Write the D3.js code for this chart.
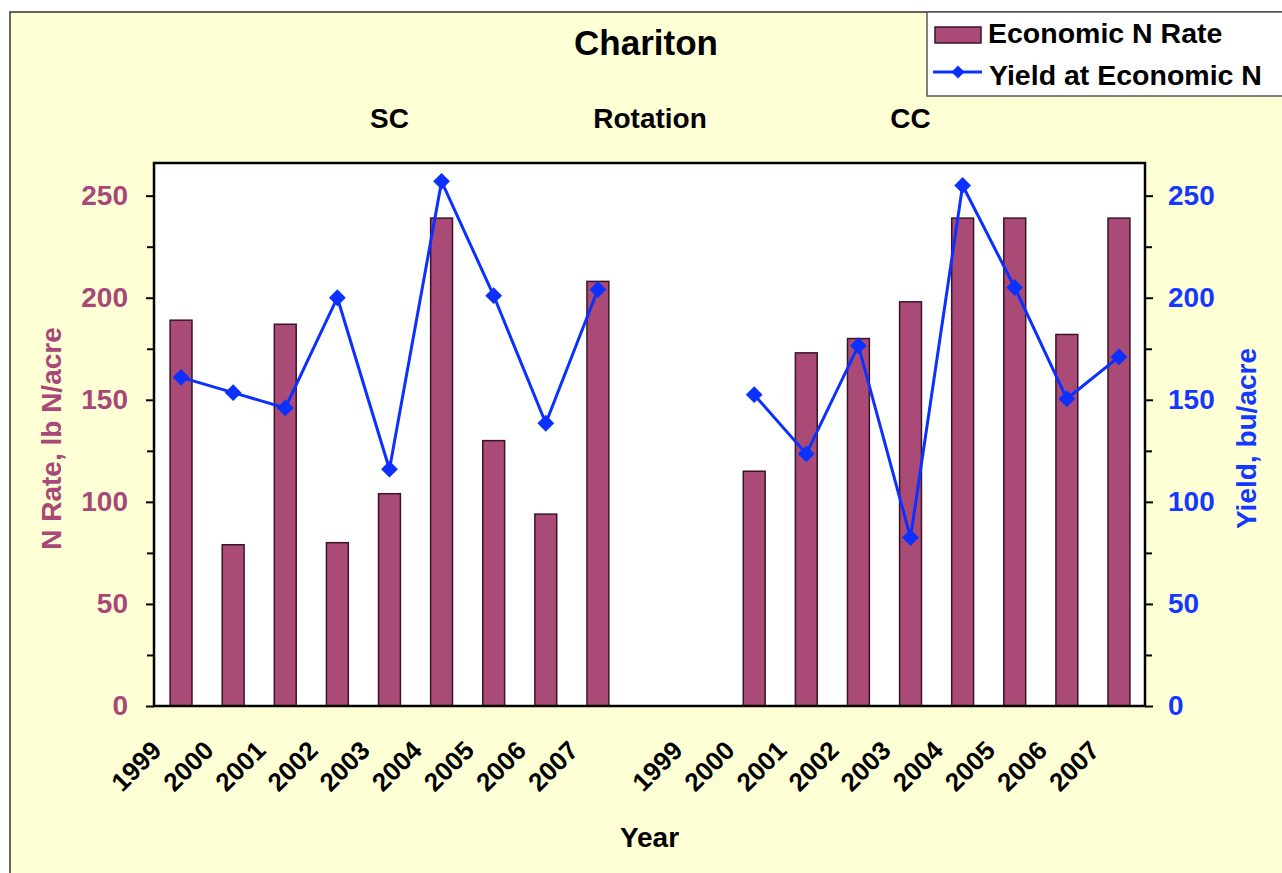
<!DOCTYPE html>
<html>
<head>
<meta charset="utf-8">
<script src="https://cdn.jsdelivr.net/npm/d3@7"></script>
<style>
  body { margin: 0; background: #ffffff; }
  svg text { font-family: "Liberation Sans", Arial, sans-serif; font-weight: bold; }
</style>
</head>
<body>
<div id="okvir"></div>
<script>
// godine (kategorije) - prazno mjesto izmedju SC i CC
const godine = ["1999","2000","2001","2002","2003","2004","2005","2006","2007",
  "","1999","2000","2001","2002","2003","2004","2005","2006","2007"]
// Economic N Rate, lb N/acre
const nRate = [189, 79, 187, 80, 104, 239, 130, 94, 208,
  null, null, 115, 173, 180, 198, 239, 239, 182, 239]
// Yield at Economic N, bu/acre
const prinos = [161, 153.5, 146, 200, 116, 257, 201, 138.5, 204,
  null, null, 152.5, 123.5, 176.5, 82.5, 255, 205, 150.5, 171]
// oznake grupa iznad grafa (indeks kategorije)
const grupe = [{ tekst: "SC", i: 4 }, { tekst: "Rotation", i: 9 }, { tekst: "CC", i: 14 }]
const glavniTicks = [0, 50, 100, 150, 200, 250]
const sporedniTicks = [25, 75, 125, 175, 225]

function crtaj() {
  const dimenzije = {
    sirina: 1282,
    visina: 873,
    granice: { left: 154, right: 1145, top: 163, bottom: 706 },
  }
  const boja = {
    pozadina: "#ffffd6",
    stupac: "#aa4a76",
    ljubicasta: "#a84878",
    plava: "#0b30ff",
  }
  const g = dimenzije.granice

  const okvir = d3.select("#okvir")
    .append("svg")
    .attr("width", dimenzije.sirina)
    .attr("height", dimenzije.visina)

  // pozadina grafikona
  okvir.append("rect")
    .attr("x", 10).attr("y", 12)
    .attr("width", 1290).attr("height", 880)
    .attr("fill", boja.pozadina)
    .attr("stroke", "#333").attr("stroke-width", 1.5)

  okvir.append("rect")
    .attr("x", g.left).attr("y", g.top)
    .attr("width", g.right - g.left).attr("height", g.bottom - g.top)
    .attr("fill", "#ffffff")

  const xSkala = d3.scaleBand()
    .domain(d3.range(godine.length))
    .range([g.left + 1, g.right])
    .paddingInner(0.58)
    .paddingOuter(0.29)
  const sredina = i => xSkala(i) + xSkala.bandwidth() / 2

  const yLijevo = d3.scaleLinear().domain([0, 266]).range([g.bottom, g.top])
  const yDesno = d3.scaleLinear().domain([0, 266]).range([g.bottom, g.top])

  // stupci
  okvir.append("g").selectAll("rect")
    .data(nRate.map((v, i) => ({ v, i })).filter(d => d.v != null))
    .join("rect")
    .attr("x", d => xSkala(d.i))
    .attr("y", d => yLijevo(d.v))
    .attr("width", xSkala.bandwidth())
    .attr("height", d => yLijevo(0) - yLijevo(d.v))
    .attr("fill", boja.stupac)
    .attr("stroke", "#3a1428")
    .attr("stroke-width", 1.5)

  // linija prinosa
  const linija = d3.line()
    .defined(d => d != null)
    .x((d, i) => sredina(i))
    .y(d => yDesno(d))
  okvir.append("path")
    .datum(prinos)
    .attr("d", linija)
    .attr("fill", "none")
    .attr("stroke", boja.plava)
    .attr("stroke-width", 3)

  const romb = d3.symbol().type(d3.symbolDiamond2).size(180)
  okvir.append("g").selectAll("path")
    .data(prinos.map((v, i) => ({ v, i })).filter(d => d.v != null))
    .join("path")
    .attr("d", romb)
    .attr("transform", d => `translate(${sredina(d.i)},${yDesno(d.v)})`)
    .attr("fill", boja.plava)

  // okvir podrucja crtanja
  okvir.append("rect")
    .attr("x", g.left).attr("y", g.top)
    .attr("width", g.right - g.left).attr("height", g.bottom - g.top)
    .attr("fill", "none")
    .attr("stroke", "#000").attr("stroke-width", 2.5)

  // lijeva os
  const lijevaOs = okvir.append("g")
    .attr("transform", `translate(${g.left},0)`)
    .call(d3.axisLeft(yLijevo).tickValues(glavniTicks).tickSize(8).tickPadding(18))
  lijevaOs.append("g")
    .call(d3.axisLeft(yLijevo).tickValues(sporedniTicks).tickSize(7).tickFormat(""))
  lijevaOs.selectAll(".domain").remove()
  lijevaOs.selectAll("line").attr("stroke", "#000").attr("stroke-width", 2)
  lijevaOs.selectAll("text")
    .attr("fill", boja.ljubicasta)
    .style("font-size", "28px")

  // desna os
  const desnaOs = okvir.append("g")
    .attr("transform", `translate(${g.right},0)`)
    .call(d3.axisRight(yDesno).tickValues(glavniTicks).tickSize(8).tickPadding(15))
  desnaOs.append("g")
    .call(d3.axisRight(yDesno).tickValues(sporedniTicks).tickSize(7).tickFormat(""))
  desnaOs.selectAll(".domain").remove()
  desnaOs.selectAll("line").attr("stroke", "#000").attr("stroke-width", 2)
  desnaOs.selectAll("text")
    .attr("fill", "#1438ff")
    .style("font-size", "28px")

  // x os - zakrenute godine
  okvir.append("g").selectAll("text")
    .data(godine)
    .join("text")
    .attr("transform", (d, i) => `translate(${sredina(i) - 18},${g.bottom + 46}) rotate(-45)`)
    .attr("text-anchor", "end")
    .attr("fill", "#000")
    .style("font-size", "26px")
    .text(d => d)

  // naslovi osi
  okvir.append("text")
    .attr("x", (g.left + g.right) / 2)
    .attr("y", 847)
    .attr("text-anchor", "middle")
    .style("font-size", "28px")
    .text("Year")

  okvir.append("text")
    .attr("transform", `translate(61,${(g.top + g.bottom) / 2 + 4}) rotate(-90)`)
    .attr("text-anchor", "middle")
    .attr("fill", boja.ljubicasta)
    .style("font-size", "28px")
    .text("N Rate, lb N/acre")

  okvir.append("text")
    .attr("transform", `translate(1256,${(g.top + g.bottom) / 2 + 4}) rotate(-90)`)
    .attr("text-anchor", "middle")
    .attr("fill", "#1438ff")
    .style("font-size", "28px")
    .text("Yield, bu/acre")

  // naslov i grupe
  okvir.append("text")
    .attr("x", 646)
    .attr("y", 55)
    .attr("text-anchor", "middle")
    .style("font-size", "35px")
    .text("Chariton")

  okvir.append("g").selectAll("text")
    .data(grupe)
    .join("text")
    .attr("x", d => sredina(d.i))
    .attr("y", 128)
    .attr("text-anchor", "middle")
    .style("font-size", "28px")
    .text(d => d.tekst)

  // legenda
  const legenda = okvir.append("g")
  legenda.append("rect")
    .attr("x", 927).attr("y", 12)
    .attr("width", 400).attr("height", 84)
    .attr("fill", "#fff")
    .attr("stroke", "#555").attr("stroke-width", 1.5)
  legenda.append("rect")
    .attr("x", 935).attr("y", 27)
    .attr("width", 46).attr("height", 16)
    .attr("fill", boja.stupac)
    .attr("stroke", "#3a1428").attr("stroke-width", 1.5)
  legenda.append("text")
    .attr("x", 988).attr("y", 43)
    .style("font-size", "28.5px")
    .text("Economic N Rate")
  legenda.append("line")
    .attr("x1", 933).attr("x2", 982)
    .attr("y1", 72).attr("y2", 72)
    .attr("stroke", boja.plava).attr("stroke-width", 3)
  legenda.append("path")
    .attr("d", d3.symbol().type(d3.symbolDiamond2).size(110))
    .attr("transform", "translate(958,72)")
    .attr("fill", boja.plava)
  legenda.append("text")
    .attr("x", 989).attr("y", 85)
    .style("font-size", "28.5px")
    .text("Yield at Economic N")
}
crtaj()
</script>
</body>
</html>
